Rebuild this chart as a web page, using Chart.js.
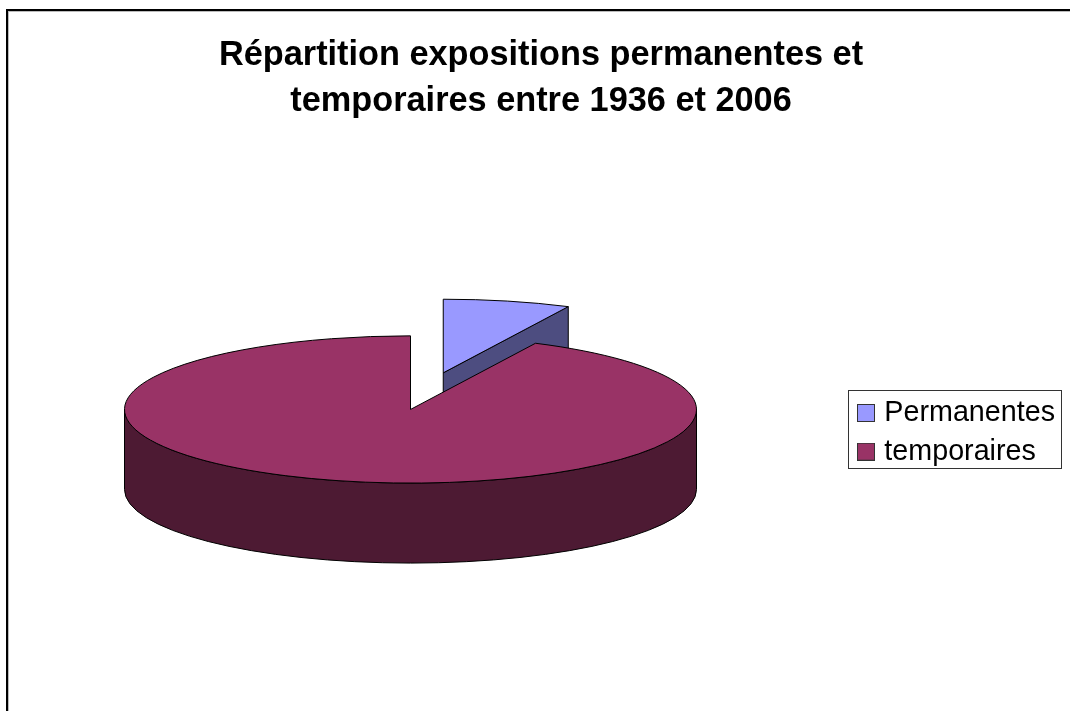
<!DOCTYPE html>
<html>
<head>
<meta charset="utf-8">
<title>Répartition expositions</title>
<script src="https://cdn.jsdelivr.net/npm/chart.js@4"></script>
<style>
  html, body { margin: 0; padding: 0; background: #fff; overflow: hidden; width: 1070px; height: 711px; }
  #frame { position: absolute; left: 6px; top: 9px; width: 1100px; height: 800px; border-left: 2px solid #000; border-top: 2px solid #000; box-shadow: inset 1px 1px 0 #bbb; }
  canvas { position: absolute; left: 0; top: 0; }
</style>
</head>
<body>
<div id="frame"></div>
<canvas id="chart" width="1082" height="711"></canvas>
<script>
const titleLines = ['Répartition expositions permanentes et', 'temporaires entre 1936 et 2006'];
const categories = ['Permanentes', 'temporaires'];
const values = [7.2, 92.8];
const topColors = ['#9999ff', '#993366'];
const wallColors = ['#4d4d80', '#4d1a33'];
const explode = [146, 0];

// fake 3d look: squash the round pie and hang a wall under it
const squash = 0.2574;
const depth = 80;

function wedgePath(ctx, arc) {
  ctx.beginPath();
  ctx.moveTo(arc.x, arc.y);
  ctx.arc(arc.x, arc.y, arc.outerRadius, arc.startAngle, arc.endAngle);
  ctx.closePath();
}

function paint(ctx, fill) {
  ctx.fillStyle = fill;
  ctx.fill();
  ctx.stroke();
}

// legend square, as a small canvas so the text can sit closer to it
function swatch(color) {
  const c = document.createElement('canvas');
  c.width = 18;
  c.height = 18;
  const g = c.getContext('2d');
  g.fillStyle = color;
  g.fillRect(0, 0, 18, 18);
  g.strokeStyle = '#333';
  g.strokeRect(0.5, 0.5, 17, 17);
  return c;
}

const pie3d = {
  id: 'pie3d',
  beforeDatasetsDraw(chart) {
    const ctx = chart.ctx;
    const arcs = chart.getDatasetMeta(0).data;
    ctx.strokeStyle = '#000';
    ctx.lineWidth = 1;
    arcs.forEach((arc, i) => {
      const mid = (arc.startAngle + arc.endAngle) / 2;
      const dy = depth / squash;
      const toSquashed = () => {
        ctx.translate(Math.cos(mid) * explode[i], Math.sin(mid) * explode[i] * squash);
        ctx.translate(0, arc.y);
        ctx.scale(1, squash);
        ctx.translate(0, -arc.y);
      };

      // outer wall, front half only
      const from = Math.max(arc.startAngle, 0);
      const to = Math.min(arc.endAngle, Math.PI);
      if (to > from) {
        ctx.save();
        toSquashed();
        ctx.beginPath();
        ctx.arc(arc.x, arc.y, arc.outerRadius, from, to);
        ctx.arc(arc.x, arc.y + dy, arc.outerRadius, to, from, true);
        ctx.closePath();
        ctx.restore();
        paint(ctx, wallColors[i]);
      }

      // cut faces that look towards the viewer
      [arc.startAngle, arc.endAngle].forEach((a, k) => {
        if ((k === 0 ? -Math.cos(a) : Math.cos(a)) <= 0.001) return;
        ctx.save();
        toSquashed();
        ctx.beginPath();
        ctx.moveTo(arc.x, arc.y);
        ctx.lineTo(arc.x + Math.cos(a) * arc.outerRadius, arc.y + Math.sin(a) * arc.outerRadius);
        ctx.lineTo(arc.x + Math.cos(a) * arc.outerRadius, arc.y + Math.sin(a) * arc.outerRadius + dy);
        ctx.lineTo(arc.x, arc.y + dy);
        ctx.closePath();
        ctx.restore();
        paint(ctx, wallColors[i]);
      });

      // top face comes from the library's own arc element
      ctx.save();
      toSquashed();
      arc.draw(ctx);
      wedgePath(ctx, arc);
      ctx.restore();
      ctx.stroke();
    });
    return false;
  }
};

const placeBoxes = {
  id: 'placeBoxes',
  afterLayout(chart) {
    // title stays centred on the whole canvas, legend goes to the right of the pie
    chart.titleBlock.left = 0;
    chart.titleBlock.right = chart.width;
    const l = chart.legend;
    l.left = 852;
    l.right = 1062;
    l.top = 388.6;
    l.bottom = 520; // roomy, or the second row wraps into a new column
  },
  afterDraw(chart) {
    const ctx = chart.ctx;
    ctx.save();
    ctx.strokeStyle = '#333';
    ctx.lineWidth = 1;
    ctx.strokeRect(848.5, 390.5, 213, 78);
    ctx.restore();
  }
};

new Chart(document.getElementById('chart'), {
  type: 'pie',
  data: {
    labels: categories,
    datasets: [{
      data: values,
      backgroundColor: topColors,
      borderWidth: 0
    }]
  },
  options: {
    responsive: false,
    animation: false,
    events: [],
    radius: 286,
    layout: { padding: { top: 0, right: 261, bottom: 17, left: 0 } },
    plugins: {
      title: {
        display: true,
        text: titleLines,
        color: '#000',
        font: { family: '"Liberation Sans", Arial, sans-serif', size: 34.3, weight: 'bold', lineHeight: 1.34 },
        padding: { top: 33, bottom: 0 }
      },
      legend: {
        position: 'chartArea',
        align: 'start',
        labels: {
          color: '#000',
          usePointStyle: true,
          pointStyleWidth: 8,
          boxHeight: 18,
          padding: 10,
          font: { family: '"Liberation Sans", Arial, sans-serif', size: 28.7 },
          generateLabels: () => categories.map((text, i) => ({
            text,
            index: i,
            fillStyle: topColors[i],
            fontColor: '#000',
            pointStyle: swatch(topColors[i]),
            hidden: false
          }))
        }
      },
      tooltip: { enabled: false }
    }
  },
  plugins: [pie3d, placeBoxes]
});
</script>
</body>
</html>
